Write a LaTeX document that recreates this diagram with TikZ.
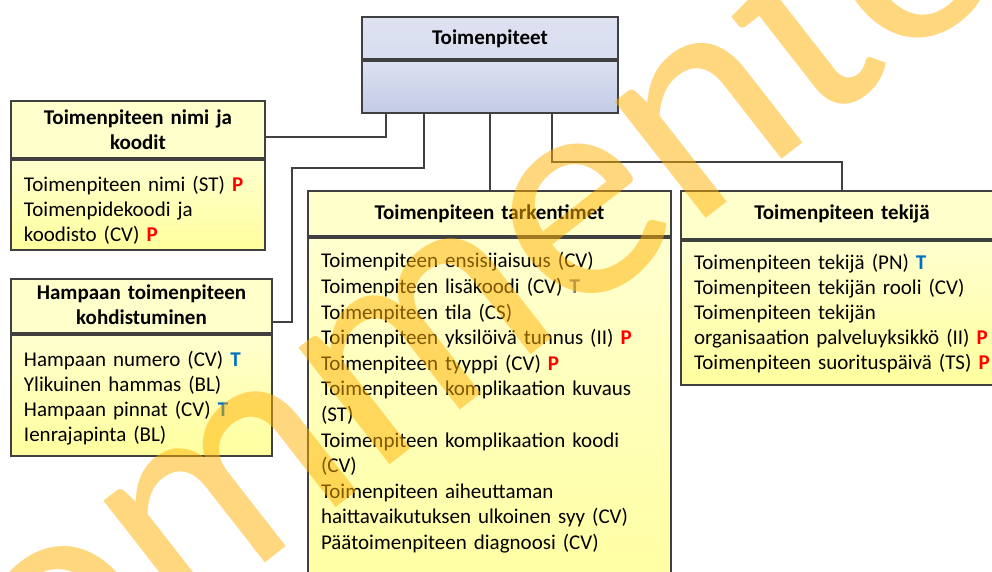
\documentclass[tikz,border=0pt]{standalone}
\usepackage{fontspec}
\setmainfont{Carlito}
\usepackage{xcolor}
\usetikzlibrary{positioning}
\definecolor{lineGray}{HTML}{404040}
\definecolor{hdrYellow}{HTML}{FFFFCC}
\definecolor{bodyYellowTop}{HTML}{FFFFCF}
\definecolor{bodyYellowBot}{HTML}{FFFF9E}
\definecolor{classBlueTop}{HTML}{DDE1F1}
\definecolor{classBlueBot}{HTML}{C3CAE5}
\definecolor{markRed}{HTML}{FF0000}
\definecolor{markBlue}{HTML}{0070C0}
\definecolor{markGray}{HTML}{7F7F7F}
\definecolor{wmOrange}{HTML}{FFB000}
\newcommand{\reqP}{\textcolor{markRed}{\textbf{P}}}
\newcommand{\reqT}{\textcolor{markBlue}{\textbf{T}}}
\newcommand{\optT}{\textcolor{markGray}{\textbf{T}}}
\tikzset{
  hdr/.style={draw=lineGray, line width=1pt, fill=hdrYellow, font=\fontsize{10.5}{12.5}\selectfont\bfseries,
    align=center, inner xsep=6.5pt, inner ysep=0pt, anchor=north west},
  bdy/.style={draw=lineGray, line width=1pt, top color=bodyYellowTop, bottom color=bodyYellowBot,
    font=\fontsize{10.5}{12.5}\selectfont, align=left, inner xsep=6.5pt, inner ysep=0pt},
  link/.style={draw=lineGray, line width=1pt},
  wmark/.style={text=wmOrange, text opacity=0.5, font=\fontsize{155}{155}\selectfont, inner sep=0pt}
}

\begin{document}
\begin{tikzpicture}[x=0.5pt, y=-0.5pt]
	\useasboundingbox (0,0) rectangle (992,572);
	\clip (0,0) rectangle (992,572);
	\fill[white] (0,0) rectangle (992,572);
	% main class
	\node[hdr, top color=classBlueTop, bottom color=classBlueTop!85!classBlueBot, text width=115pt, text height=14pt, text depth=7pt] (toimHdr) at (361,16) {Toimenpiteet};
	\node[bdy, top color=classBlueTop, bottom color=classBlueBot, text width=115pt, text height=26pt, text depth=0pt, below=0pt of toimHdr] (toimBody) {};
	% parts
	\node[hdr, text width=114pt, text height=12pt, text depth=16.5pt] (nimiHdr) at (10,100) {Toimenpiteen nimi ja\\koodit};
	\node[bdy, text width=114pt, text height=16pt, text depth=29pt, below=0pt of nimiHdr] (nimiBody) {Toimenpiteen nimi (ST) \reqP\\Toimenpidekoodi ja\\koodisto (CV) \reqP};
	\node[hdr, text width=117.5pt, text height=10.5pt, text depth=16.5pt] (hampHdr) at (10,278) {Hampaan toimenpiteen\\kohdistuminen};
	\node[bdy, text width=117.5pt, text height=16pt, text depth=44.5pt, below=0pt of hampHdr] (hampBody) {Hampaan numero (CV) \reqT\\Ylikuinen hammas (BL)\\Hampaan pinnat (CV) \reqT\\Ienrajapinta (BL)};
	\node[hdr, text width=168.5pt, text height=14.5pt, text depth=8pt] (tarkHdr) at (307,190) {Toimenpiteen tarkentimet};
	\node[bdy, font=\fontsize{10.5}{12.8}\selectfont, text width=168.5pt, text height=15pt, text depth=177pt, below=0pt of tarkHdr] (tarkBody) {Toimenpiteen ensisijaisuus (CV)\\Toimenpiteen lisäkoodi (CV) \optT\\Toimenpiteen tila (CS)\\Toimenpiteen yksilöivä tunnus (II) \reqP\\Toimenpiteen tyyppi (CV) \reqP\\Toimenpiteen komplikaation kuvaus\\(ST)\\Toimenpiteen komplikaation koodi\\(CV)\\Toimenpiteen aiheuttaman\\haittavaikutuksen ulkoinen syy (CV)\\Päätoimenpiteen diagnoosi (CV)};
	\node[hdr, text width=148pt, text height=14.5pt, text depth=9.5pt] (tekHdr) at (680,190) {Toimenpiteen tekijä};
	\node[bdy, anchor=north west, text width=170pt, text height=14.5pt, text depth=57.5pt] (tekBody) at (tekHdr.south west) {Toimenpiteen tekijä (PN) \reqT\\Toimenpiteen tekijän rooli (CV)\\Toimenpiteen tekijän\\organisaation palveluyksikkö (II) \reqP\\Toimenpiteen suorituspäivä (TS) \reqP};
	% connectors
	\coordinate (k1) at (386,137);
	\coordinate (k2a) at (424,168);
	\coordinate (k2b) at (292,322);
	\coordinate (k4) at (552,162);
	\draw[link] (k1 |- toimBody.south) -- (k1) -- (k1 -| nimiHdr.east);
	\draw[link] (k2a |- toimBody.south) -- (k2a) -| (k2b) -- (k2b -| hampHdr.east);
	\draw[link] (tarkHdr.north |- toimBody.south) -- (tarkHdr.north);
	\draw[link] (k4 |- toimBody.south) -- (k4) -| (tekHdr.north);
	% watermark
	\node[wmark, rotate=38, anchor=base west] (wm) at (-74,828) {Kommentoitavana};
\end{tikzpicture}
\end{document}
